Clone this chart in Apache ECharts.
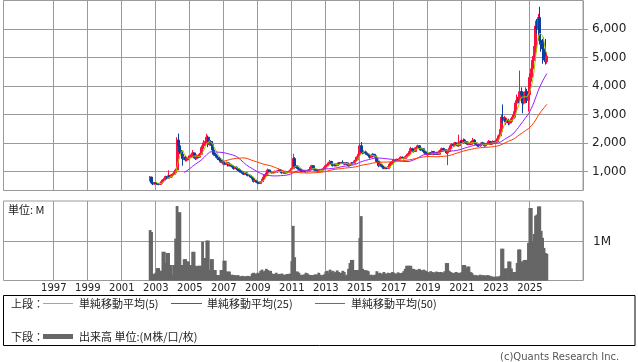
<!DOCTYPE html>
<html><head><meta charset="utf-8">
<script src="https://cdn.jsdelivr.net/npm/echarts@6/dist/echarts.min.js"></script>
<style>html,body{margin:0;padding:0;background:#fff}#c{width:638px;height:362px}</style>
</head><body><div id="c"></div>
<script>
// ---- axis setup ----
const axisStart = [1994, 2];      // first month on the time axis
const axisMonths = 409;           // months shown on the time axis
const dataStart = [2002, 9];      // first monthly candle
const yearLabels = [1997,1999,2001,2003,2005,2007,2009,2011,2013,2015,2017,2019,2021,2023,2025];
const priceMin = 330, priceMax = 7000;
const volMax = 2.05;

// ---- monthly OHLC (2002-09 .. 2026-01) ----
const open = [
 680,800,600,560,
 590,580,560,540,580,640,700,760,820,760,850,800,
 880,900,950,1050,2100,1900,1700,1600,1450,1500,1400,1450,
 1500,1500,1550,1650,1500,1450,1550,1500,1600,1800,1900,2000,
 2050,2200,1950,2050,1950,1750,1600,1550,1500,1450,1400,1350,
 1260,1300,1250,1300,1200,1250,1200,1150,1100,1150,1100,1050,
 1030,1000,950,900,950,900,850,860,800,750,650,680,
 620,600,580,640,720,800,880,950,1050,1000,980,950,
 980,1000,980,1020,1050,980,950,960,940,960,980,1000,
 1050,1100,1450,1200,1150,1100,1080,1050,1000,1020,1000,990,
 1010,1050,1150,1200,1100,1050,1030,1020,1040,1030,1050,1080,
 1150,1200,1250,1300,1350,1250,1200,1250,1200,1250,1300,1280,
 1320,1300,1250,1300,1250,1200,1250,1300,1280,1350,1400,1500,
 1600,1900,1700,1650,1700,1650,1600,1550,1500,1550,1600,1550,
 1500,1350,1200,1250,1200,1150,1100,1120,1100,1150,1250,1300,
 1350,1400,1380,1420,1400,1450,1500,1480,1450,1500,1550,1600,
 1700,1800,1750,1700,1800,1850,1900,1800,1750,1800,1700,1650,
 1580,1600,1650,1600,1700,1650,1600,1650,1600,1700,1750,1800,
 1770,1750,1650,1700,1800,1900,1950,1900,2000,1950,1900,2000,
 2050,2000,2100,2050,2000,1950,2000,1950,2050,2100,2000,1950,
 1920,1900,1950,2000,1950,1900,1950,2000,2050,1950,2000,2050,
 2000,2050,2150,2250,2400,2900,2800,2850,2750,2800,2700,2750,
 2850,2900,3100,3400,3600,3500,3800,3700,3400,3700,3800,3500,
 3700,4300,4600,4900,5200,6100,6000,6400,5600,5500,5300,5000,
 4850
];
const close = [
 800,600,560,590,
 580,560,540,580,640,700,760,820,760,850,800,880,
 900,950,1050,2100,1900,1700,1600,1450,1500,1400,1450,1500,
 1500,1550,1650,1500,1450,1550,1500,1600,1800,1900,2000,2050,
 2200,1950,2050,1950,1750,1600,1550,1500,1450,1400,1350,1300,
 1300,1250,1300,1200,1250,1200,1150,1100,1150,1100,1050,1000,
 1000,950,900,950,900,850,850,800,750,650,680,620,
 600,580,640,720,800,880,950,1050,1000,980,950,980,
 1000,980,1020,1050,980,950,960,940,960,980,1000,1050,
 1100,1450,1200,1150,1100,1080,1050,1000,1020,1000,990,1010,
 1050,1150,1200,1100,1050,1030,1020,1040,1030,1050,1080,1150,
 1200,1250,1300,1350,1250,1200,1250,1200,1250,1300,1280,1300,
 1300,1250,1300,1250,1200,1250,1300,1280,1350,1400,1500,1600,
 1900,1700,1650,1700,1650,1600,1550,1500,1550,1600,1550,1500,
 1350,1200,1250,1200,1150,1100,1120,1100,1150,1250,1300,1350,
 1400,1380,1420,1400,1450,1500,1480,1450,1500,1550,1600,1700,
 1800,1750,1700,1800,1850,1900,1800,1750,1800,1700,1650,1600,
 1600,1650,1600,1700,1650,1600,1650,1600,1700,1750,1800,1750,
 1750,1650,1700,1800,1900,1950,1900,2000,1950,1900,2000,2050,
 2000,2100,2050,2000,1950,2000,1950,2050,2100,2000,1950,1900,
 1900,1950,2000,1950,1900,1950,2000,2050,1950,2000,2050,2000,
 2050,2150,2250,2400,2900,2800,2850,2750,2800,2700,2750,2850,
 2900,3100,3400,3600,3500,3800,3700,3400,3700,3800,3500,3700,
 4300,4600,4900,5200,6100,6000,6400,5600,5500,5300,5000,4850,
 5050
];
const high = [
 840,810,640,620,
 620,600,580,600,660,730,790,850,840,1040,870,910,
 930,990,1100,2200,2330,2000,1750,1650,1560,1550,1500,1560,
 1560,1600,1750,1680,1530,1600,1580,1650,1850,1980,2100,2150,
 2320,2260,2150,2100,2000,1800,1650,1600,1550,1500,1450,1400,
 1380,1330,1340,1320,1280,1270,1230,1180,1180,1170,1130,1080,
 1060,1020,980,980,970,920,890,880,820,770,720,700,
 640,620,660,740,820,900,980,1100,1070,1030,1000,1010,
 1030,1020,1050,1090,1070,1000,990,980,990,1010,1030,1080,
 1130,1620,1500,1230,1170,1130,1100,1070,1050,1040,1020,1040,
 1080,1180,1230,1220,1120,1070,1060,1070,1060,1080,1100,1180,
 1240,1290,1340,1400,1370,1270,1280,1270,1280,1330,1320,1330,
 1390,1330,1330,1320,1270,1270,1330,1320,1380,1430,1530,1640,
 1990,2030,1750,1740,1720,1680,1630,1580,1580,1640,1620,1580,
 1520,1380,1290,1280,1230,1170,1150,1150,1180,1280,1330,1390,
 1430,1420,1450,1440,1480,1530,1520,1500,1530,1580,1640,1760,
 1860,1830,1780,1840,1890,1940,1920,1830,1840,1820,1720,1680,
 1640,1680,1670,1730,1720,1670,1680,1670,1730,1780,1840,1830,
 1800,1780,1760,1830,1930,1990,1980,2040,2030,1980,2290,2100,
 2120,2160,2140,2080,2030,2040,2030,2090,2180,2130,2030,1990,
 1960,1980,2030,2040,1980,1980,2030,2100,2080,2030,2090,2080,
 2090,2190,2300,2480,3000,3350,2950,2900,2880,2850,2800,2920,
 3000,3200,3500,3700,3700,4540,3950,3800,3800,3950,3900,3850,
 4450,4830,5050,5400,6290,6350,6530,6780,5750,5650,5700,5650,
 5150
];
const low = [
 650,580,520,540,
 560,530,510,530,570,630,690,740,730,750,770,790,
 860,880,930,1030,1800,1600,1500,1200,1400,1350,1350,1400,
 1440,1460,1520,1460,1400,1420,1460,1480,1580,1760,1860,1950,
 1980,1850,1900,1900,1700,1550,1500,1450,1400,1350,1300,1250,
 1230,1220,1220,1170,1180,1170,1120,1060,1080,1070,1020,960,
 950,920,870,880,880,830,820,780,720,610,630,590,
 570,550,570,630,710,790,860,930,980,950,930,930,
 960,960,960,1000,960,920,930,920,920,950,960,980,
 1030,1080,1150,1120,1080,1050,1020,970,980,970,960,970,
 990,1030,1130,1080,1030,1010,1000,1000,1010,1010,1030,1060,
 1130,1180,1230,1280,1230,1170,1180,1180,1180,1230,1250,1260,
 1270,1220,1230,1220,1170,1180,1230,1250,1260,1330,1380,1480,
 1570,1650,1600,1620,1620,1570,1520,1450,1470,1520,1520,1460,
 1320,1150,1180,1170,1120,1080,1080,1080,1090,1130,1230,1280,
 1330,1360,1360,1380,1380,1430,1460,1420,1430,1480,1530,1580,
 1680,1700,1660,1680,1770,1820,1770,1720,1730,1680,1620,1570,
 1550,1580,1580,1590,1630,1580,1580,1580,1590,1690,1730,1720,
 1720,1620,1220,1670,1780,1870,1870,1880,1920,1880,1870,1970,
 1960,1970,2010,1960,1920,1920,1920,1930,2010,1970,1920,1870,
 1860,1870,1920,1920,1870,1880,1930,1980,1930,1930,1980,1970,
 1980,2020,2120,2220,2380,2700,2720,2640,2700,2620,2640,2720,
 2780,2850,3050,3350,3400,3450,3550,3040,3350,3600,3400,3100,
 3600,4150,4450,4750,5100,5850,5850,5450,5200,4780,4900,4750,
 4780
];
// monthly volume, millions
const volume = [
 1.3,1.25,0.17,0.17,
 0.2,0.32,0.32,0.25,0.25,0.74,0.74,0.45,0.71,0.71,0.4,0.4,
 0.14,0.4,1.08,1.92,1.76,1.76,0.4,0.4,0.55,0.55,0.49,0.49,
 0.4,0.4,0.74,0.74,0.38,0.36,0.38,0.38,0.38,1.0,0.58,0.58,
 1.03,1.03,0.27,0.55,0.55,0.27,0.27,0.14,0.14,0.14,0.27,0.27,
 0.51,0.51,0.23,0.23,0.23,0.14,0.15,0.13,0.14,0.12,0.14,0.11,
 0.1,0.12,0.11,0.1,0.11,0.12,0.1,0.11,0.18,0.2,0.16,0.18,
 0.2,0.18,0.25,0.28,0.22,0.25,0.3,0.27,0.24,0.25,0.18,0.16,
 0.17,0.2,0.15,0.17,0.16,0.18,0.15,0.14,0.16,0.17,0.15,0.18,
 0.5,1.41,0.6,0.23,0.23,0.2,0.14,0.15,0.14,0.16,0.2,0.18,
 0.15,0.14,0.14,0.13,0.15,0.16,0.14,0.2,0.15,0.13,0.14,0.16,
 0.23,0.25,0.2,0.28,0.22,0.25,0.2,0.22,0.26,0.22,0.18,0.2,
 0.25,0.22,0.12,0.15,0.3,0.45,0.53,0.53,0.27,0.27,0.27,0.27,
 1.1,1.66,0.3,0.27,0.26,0.26,0.24,0.14,0.15,0.13,0.14,0.15,
 0.24,0.18,0.2,0.17,0.18,0.22,0.18,0.17,0.2,0.19,0.18,0.22,
 0.2,0.17,0.18,0.21,0.19,0.18,0.2,0.24,0.3,0.38,0.38,0.38,
 0.38,0.3,0.3,0.26,0.28,0.25,0.3,0.27,0.25,0.28,0.26,0.24,
 0.22,0.2,0.24,0.22,0.21,0.2,0.23,0.22,0.2,0.22,0.21,0.2,
 0.24,0.45,0.45,0.25,0.22,0.2,0.18,0.2,0.22,0.2,0.18,0.2,
 0.22,0.4,0.4,0.3,0.36,0.36,0.22,0.2,0.15,0.13,0.14,0.12,
 0.13,0.15,0.12,0.14,0.13,0.12,0.14,0.13,0.12,0.1,0.1,0.09,
 0.1,0.1,0.1,0.12,0.82,0.82,0.31,0.31,0.31,0.49,0.49,0.31,
 0.22,0.22,0.22,0.45,0.8,0.8,0.49,0.49,0.53,0.53,0.53,0.97,
 1.87,1.87,1.0,1.2,1.67,1.7,1.91,1.91,1.28,1.1,0.84,0.71,
 0.69
];
const maPeriods = [5, 25, 50];
const maNames = ['単純移動平均(5)', '単純移動平均(25)', '単純移動平均(50)'];

// ---- colors ----
const UP = '#ff0f3f', DOWN = '#0a3f9f';
const maColors = ['#99cc00', '#9a1cff', '#ff3a00'];
const GRID = '#9a9a9a';

// ---- derived ----
const cats = [];
for (let i = 0; i < axisMonths; i++) {
  const t = axisStart[0] * 12 + (axisStart[1] - 1) + i;
  const y = Math.floor(t / 12), m = t % 12 + 1;
  cats.push(y + '-' + String(m).padStart(2, '0'));
}
const offset = (dataStart[0] - axisStart[0]) * 12 + (dataStart[1] - axisStart[1]);
const isYearTick = (i) => {
  const [y, m] = cats[i].split('-').map(Number);
  return m === 1 && yearLabels.includes(y);
};
const candleData = close.map((c, i) => [offset + i, open[i], c, low[i], high[i]]);
const volData = volume.map((v, i) => [offset + i, v]);
function ma(n) {
  const out = [];
  for (let i = n - 1; i < close.length; i++) {
    let s = 0;
    for (let j = i - n + 1; j <= i; j++) s += close[j];
    out.push([offset + i, s / n]);
  }
  return out;
}

const FONT = "'DejaVu Sans', sans-serif";
const CJK = "'Noto Sans CJK JP', sans-serif";
const L = 3.5, W = 579.5;

function xAx(gridIndex, showLabel) {
  return {
    type: 'category', data: cats, gridIndex, boundaryGap: true,
    axisLine: { show: false }, axisTick: { show: false },
    axisLabel: {
      show: showLabel, interval: (i) => isYearTick(i), formatter: (v) => v.slice(0, 4),
      fontFamily: FONT, fontSize: 10, color: '#222', margin: 3
    },
    splitLine: { show: true, interval: (i) => isYearTick(i), lineStyle: { color: GRID, width: 1 } }
  };
}

const chart = echarts.init(document.getElementById('c'), null, { renderer: 'canvas' });
chart.setOption({
  animation: false,
  backgroundColor: '#fff',
  grid: [
    { left: L, top: 0.5, width: W, height: 190, show: true, borderColor: GRID, borderWidth: 1, backgroundColor: 'transparent' },
    { left: L, top: 201, width: W, height: 79.5, show: true, borderColor: GRID, borderWidth: 1, backgroundColor: 'transparent' }
  ],
  xAxis: [xAx(0, false), xAx(1, true)],
  yAxis: [
    {
      type: 'value', gridIndex: 0, position: 'right', min: priceMin, max: priceMax, splitNumber: 7,
      axisLine: { show: false },
      axisTick: { show: true, length: 5, lineStyle: { color: GRID } },
      axisLabel: {
        showMinLabel: false, showMaxLabel: false, margin: 9,
        formatter: (v) => v.toLocaleString('en-US'), fontFamily: FONT, fontSize: 12, color: '#222'
      },
      splitLine: { show: true, lineStyle: { color: GRID, width: 1 } }
    },
    {
      type: 'value', gridIndex: 1, position: 'right', min: 0, max: volMax, interval: 1,
      axisLine: { show: false }, axisTick: { show: false },
      axisLabel: {
        showMinLabel: false, showMaxLabel: false, margin: 10,
        formatter: (v) => (v === 1 ? '1M' : ''), fontFamily: FONT, fontSize: 12, color: '#222'
      },
      splitLine: { show: false }
    }
  ],
  series: [
    {
      type: 'candlestick', xAxisIndex: 0, yAxisIndex: 0, data: candleData,
      encode: { x: 0, y: [1, 2, 3, 4] }, barWidth: 2.6,
      itemStyle: { color: UP, color0: DOWN, borderColor: UP, borderColor0: DOWN, borderWidth: 1 }
    },
    ...maPeriods.map((n, k) => ({
      type: 'line', name: maNames[k], xAxisIndex: 0, yAxisIndex: 0, data: ma(n),
      showSymbol: false, symbol: 'none', lineStyle: { color: maColors[k], width: 1 }, z: 3
    })),
    {
      type: 'bar', xAxisIndex: 1, yAxisIndex: 1, data: volData, barWidth: 2.8,
      itemStyle: { color: '#666' },
      markLine: {
        silent: true, symbol: 'none', label: { show: false },
        lineStyle: { color: GRID, type: 'solid', width: 1 },
        data: [{ yAxis: 1 }], z: 1
      }
    }
  ],
  graphic: [
    { type: 'text', left: 8, top: 204, style: { text: '単位: M', font: '11px ' + CJK, fill: '#222' } },
    { type: 'rect', shape: { x: 3.5, y: 295.5, width: 631.5, height: 50 }, style: { fill: 'none', stroke: '#000', lineWidth: 1 } },
    { type: 'text', x: 11, y: 303.5, style: { text: '上段：', font: '11px ' + CJK, fill: '#222', verticalAlign: 'middle' } },
    { type: 'line', shape: { x1: 43, y1: 303.5, x2: 73, y2: 303.5 }, style: { stroke: maColors[0], lineWidth: 1 } },
    { type: 'text', x: 79, y: 303.5, style: { text: maNames[0], font: '11px ' + CJK, fill: '#222', verticalAlign: 'middle' } },
    { type: 'line', shape: { x1: 171, y1: 303.5, x2: 202, y2: 303.5 }, style: { stroke: maColors[1], lineWidth: 1 } },
    { type: 'text', x: 207, y: 303.5, style: { text: maNames[1], font: '11px ' + CJK, fill: '#222', verticalAlign: 'middle' } },
    { type: 'line', shape: { x1: 315, y1: 303.5, x2: 345, y2: 303.5 }, style: { stroke: maColors[2], lineWidth: 1 } },
    { type: 'text', x: 351, y: 303.5, style: { text: maNames[2], font: '11px ' + CJK, fill: '#222', verticalAlign: 'middle' } },
    { type: 'text', x: 11, y: 336.5, style: { text: '下段：', font: '11px ' + CJK, fill: '#222', verticalAlign: 'middle' } },
    { type: 'line', shape: { x1: 43, y1: 336.5, x2: 73, y2: 336.5 }, style: { stroke: '#666', lineWidth: 5 } },
    { type: 'text', x: 79, y: 336.5, style: { text: '出来高 単位:(M株/口/枚)', font: '11px ' + CJK, fill: '#222', verticalAlign: 'middle' } },
    { type: 'text', x: 500, y: 357, style: { text: '(c)Quants Research Inc.', font: '10px ' + FONT, fill: '#555', verticalAlign: 'middle' } }
  ]
});
</script>
</body></html>
